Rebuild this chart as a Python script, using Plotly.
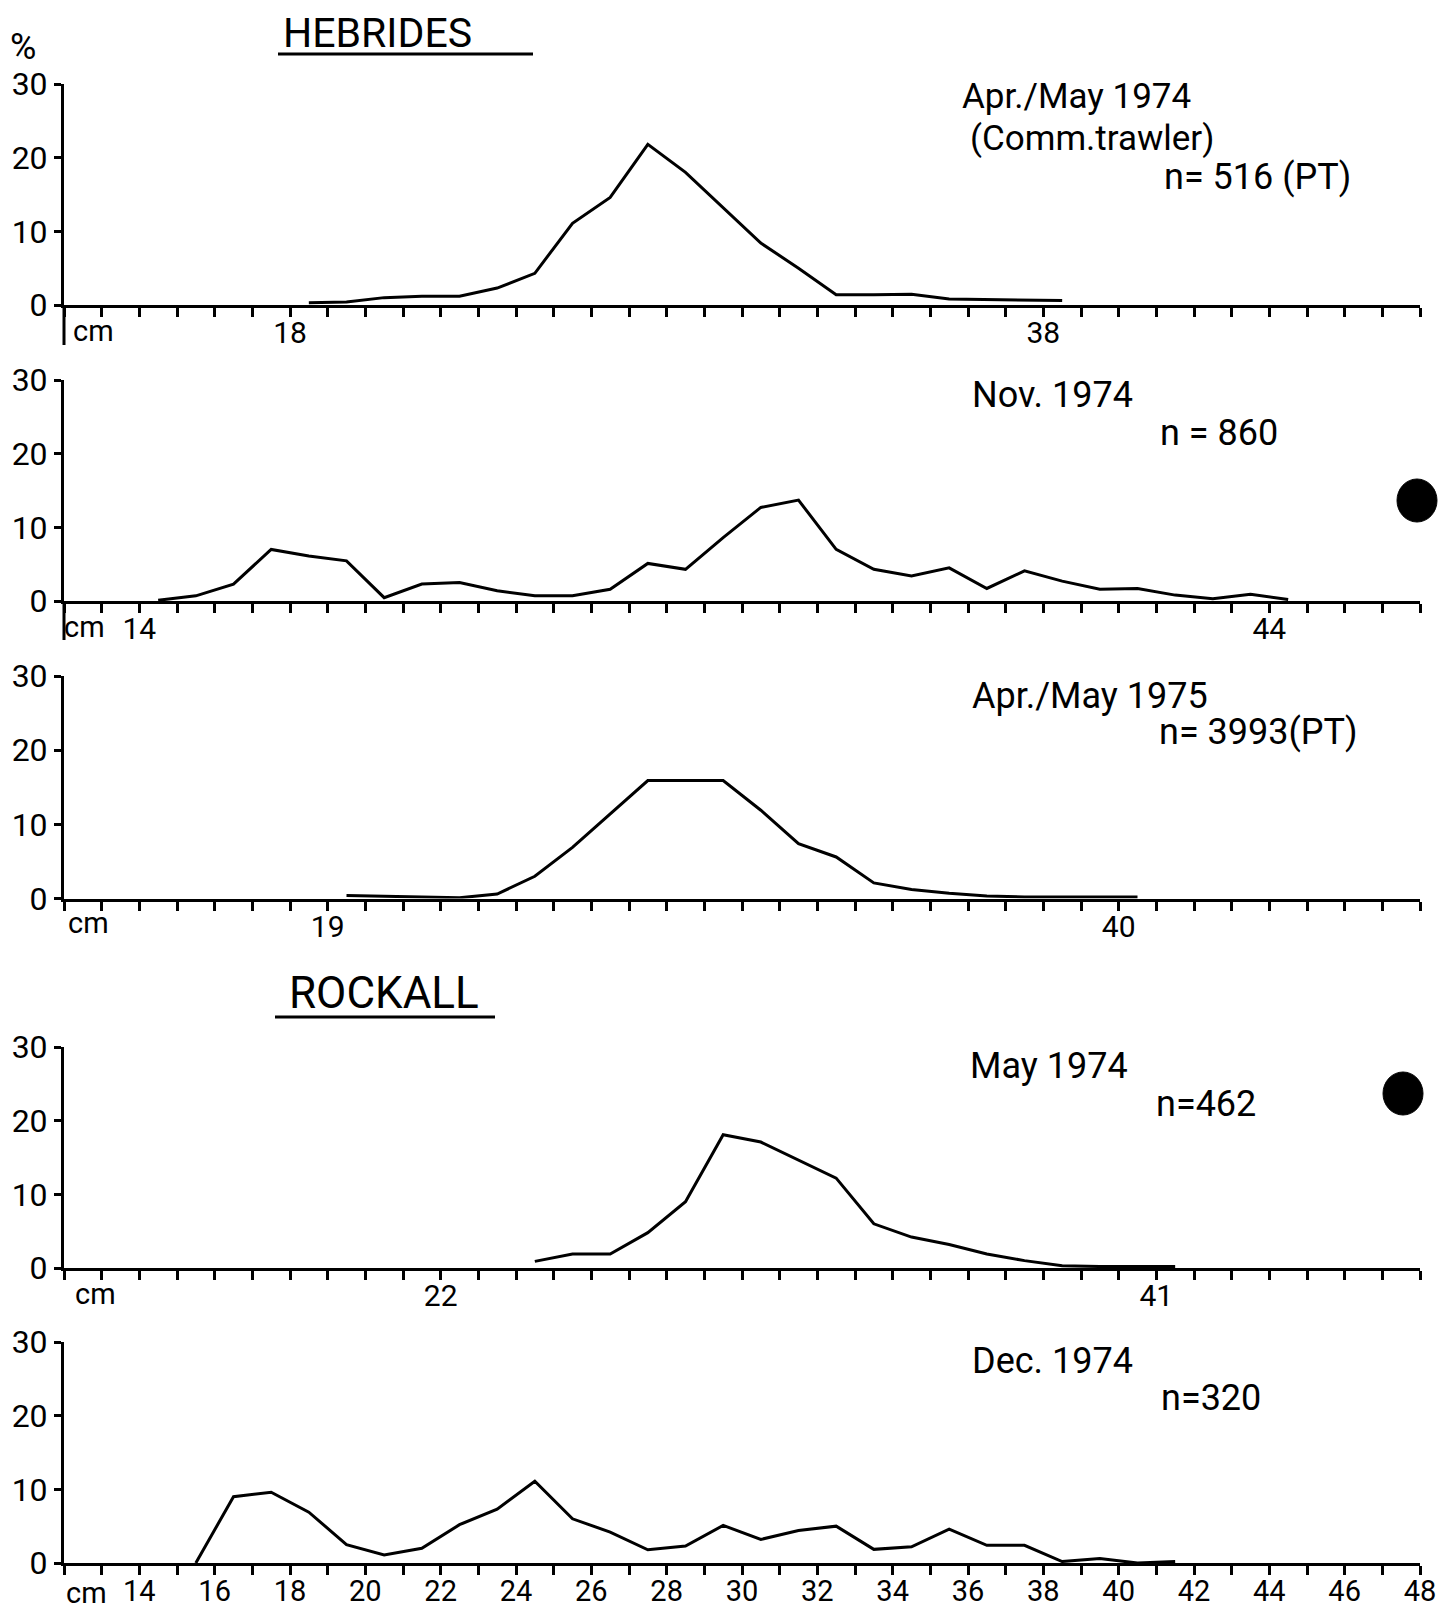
import plotly.graph_objects as go

# ---------------- data ----------------
# Hebrides, Apr/May 1974 (commercial trawler), n=516 (PT)
heb_apr74_len = [18.5, 19.5, 20.5, 21.5, 22.5, 23.5, 24.5, 25.5, 26.5, 27.5, 28.5,
                 29.5, 30.5, 31.5, 32.5, 33.5, 34.5, 35.5, 36.5, 37.5, 38.5]
heb_apr74_pct = [0.3, 0.4, 1.0, 1.2, 1.2, 2.3, 4.3, 11.1, 14.6, 21.8, 18.0,
                 13.2, 8.4, 5.0, 1.4, 1.4, 1.45, 0.8, 0.7, 0.6, 0.6]

# Hebrides, Nov 1974, n=860
heb_nov74_len = [14.5, 15.5, 16.5, 17.5, 18.5, 19.5, 20.5, 21.5, 22.5, 23.5, 24.5,
                 25.5, 26.5, 27.5, 28.5, 29.5, 30.5, 31.5, 32.5, 33.5, 34.5, 35.5,
                 36.5, 37.5, 38.5, 39.5, 40.5, 41.5, 42.5, 43.5, 44.5]
heb_nov74_pct = [0.1, 0.7, 2.3, 7.0, 6.1, 5.45, 0.45, 2.3, 2.5, 1.4, 0.7,
                 0.7, 1.6, 5.1, 4.3, 8.6, 12.7, 13.7, 7.0, 4.3, 3.4, 4.5,
                 1.7, 4.1, 2.7, 1.6, 1.7, 0.8, 0.3, 0.9, 0.2]

# Hebrides, Apr/May 1975, n=3993 (PT)
heb_apr75_len = [19.5, 20.5, 21.5, 22.5, 23.5, 24.5, 25.5, 26.5, 27.5, 28.5, 29.5,
                 30.5, 31.5, 32.5, 33.5, 34.5, 35.5, 36.5, 37.5, 38.5, 39.5, 40.5]
heb_apr75_pct = [0.4, 0.3, 0.2, 0.1, 0.6, 3.0, 6.9, 11.4, 15.9, 15.9, 15.9,
                 11.9, 7.4, 5.6, 2.1, 1.2, 0.7, 0.35, 0.2, 0.2, 0.2, 0.2]

# Rockall, May 1974, n=462
roc_may74_len = [24.5, 25.5, 26.5, 27.5, 28.5, 29.5, 30.5, 31.5, 32.5, 33.5, 34.5,
                 35.5, 36.5, 37.5, 38.5, 39.5, 40.5, 41.5]
roc_may74_pct = [0.9, 1.9, 1.9, 4.8, 9.0, 18.1, 17.1, 14.7, 12.2, 6.0, 4.2,
                 3.2, 1.9, 1.0, 0.3, 0.2, 0.2, 0.2]

# Rockall, Dec 1974, n=320
roc_dec74_len = [15.5, 16.5, 17.5, 18.5, 19.5, 20.5, 21.5, 22.5, 23.5, 24.5, 25.5,
                 26.5, 27.5, 28.5, 29.5, 30.5, 31.5, 32.5, 33.5, 34.5, 35.5, 36.5,
                 37.5, 38.5, 39.5, 40.5, 41.5]
roc_dec74_pct = [0.0, 9.0, 9.6, 6.9, 2.5, 1.1, 2.0, 5.2, 7.3, 11.1, 6.0,
                 4.2, 1.8, 2.3, 5.1, 3.2, 4.4, 5.0, 1.85, 2.2, 4.6, 2.4,
                 2.4, 0.2, 0.6, 0.0, 0.2]

# tick labels
y_ticks = [0, 10, 20, 30]
x_minor_ticks = list(range(12, 49))
p1_xticks = [18, 38]
p2_xticks = [14, 44]
p3_xticks = [19, 40]
p4_xticks = [22, 41]
p5_xticks = list(range(14, 49, 2))

# panel texts
p1_lines = ["Apr./May 1974", "(Comm.trawler)", "n= 516 (PT)"]
p2_lines = ["Nov. 1974", "n = 860"]
p3_lines = ["Apr./May 1975", "n= 3993(PT)"]
p4_lines = ["May 1974", "n=462"]
p5_lines = ["Dec. 1974", "n=320"]

# ---------------- layout helpers ----------------
W, H = 1449, 1610
PAGE_OFF = 8  # default body margin of the html page
FONT = "Roboto, DejaVu Sans, sans-serif"


def fx(p):
    return (p - PAGE_OFF) / W


def fy(p):
    return 1 - (p - PAGE_OFF) / H


X_DOMAIN = [fx(64), fx(1420)]
# pixel rows of y=0 and y=30 for each panel
panel_rows = [(305, 84), (601, 380), (898.5, 676), (1268, 1047), (1563, 1342)]

series = [
    (heb_apr74_len, heb_apr74_pct, p1_xticks),
    (heb_nov74_len, heb_nov74_pct, p2_xticks),
    (heb_apr75_len, heb_apr75_pct, p3_xticks),
    (roc_may74_len, roc_may74_pct, p4_xticks),
    (roc_dec74_len, roc_dec74_pct, p5_xticks),
]

fig = go.Figure()
layout = {}
for i, ((xs, ys, xt), (r0, r30)) in enumerate(zip(series, panel_rows), start=1):
    sfx = "" if i == 1 else str(i)
    fig.add_trace(go.Scatter(
        x=xs, y=ys, mode="lines",
        line=dict(color="black", width=3),
        xaxis="x" + sfx, yaxis="y" + sfx, showlegend=False,
        hoverinfo="x+y",
    ))
    last = i == len(series)
    layout["xaxis" + sfx] = dict(
        domain=X_DOMAIN, range=[12, 48], anchor="y" + sfx, automargin=False,
        showline=True, linecolor="black", linewidth=3,
        showgrid=False, zeroline=False,
        tickmode="array", tickvals=xt, ticktext=[str(v) for v in xt],
        ticks="outside", ticklen=9, tickwidth=2.5, tickcolor="black",
        ticklabelstandoff=-9 if last else -10,
        tickfont=dict(family=FONT, size=29 if last else 30, color="black"),
        minor=dict(tickmode="array", tickvals=x_minor_ticks, ticks="outside",
                   ticklen=9, tickwidth=2.5, tickcolor="black", showgrid=False),
    )
    layout["yaxis" + sfx] = dict(
        domain=[fy(r0), fy(r30)], range=[0, 30], anchor="x" + sfx, automargin=False,
        showline=True, linecolor="black", linewidth=3,
        showgrid=False, zeroline=False,
        tickmode="array", tickvals=y_ticks, ticktext=[str(v) for v in y_ticks],
        ticks="outside", ticklen=7, tickwidth=3, tickcolor="black",
        tickfont=dict(family=FONT, size=32, color="black"),
    )

annotations = []


def txt(text, x, y, size, xanchor="left", yanchor="middle", borderpad=1):
    annotations.append(dict(
        text=text, xref="paper", yref="paper", x=fx(x), y=fy(y),
        xanchor=xanchor, yanchor=yanchor, showarrow=False, borderpad=borderpad,
        font=dict(family=FONT, size=size, color="black"),
    ))


# titles
txt("HEBRIDES", 282, 8, 41, yanchor="top", borderpad=0)
txt("ROCKALL", 287, 993, 44)
txt("%", 8, 47, 36)

# panel annotations
txt(p1_lines[0], 960, 97, 35)
txt(p1_lines[1], 968, 138, 35)
txt(p1_lines[2], 1162, 177, 36)

txt(p2_lines[0], 970, 395, 36)
txt(p2_lines[1], 1158, 433, 36)

txt(p3_lines[0], 970, 696, 36)
txt(p3_lines[1], 1157, 732, 36)

txt(p4_lines[0], 968, 1066, 36)
txt(p4_lines[1], 1154, 1104, 36)

txt(p5_lines[0], 970, 1361, 36)
txt(p5_lines[1], 1159, 1398, 36)

# "cm" unit labels
txt("cm", 71, 331, 29)
txt("cm", 62, 627, 29)
txt("cm", 66, 923, 29)
txt("cm", 73, 1294, 29)
txt("cm", 64, 1593, 29)

shapes = [
    dict(type="line", xref="paper", yref="paper", x0=fx(278), x1=fx(533), y0=fy(54), y1=fy(54),
         line=dict(color="black", width=3)),
    dict(type="line", xref="paper", yref="paper", x0=fx(275), x1=fx(495), y0=fy(1017), y1=fy(1017),
         line=dict(color="black", width=3)),
    # y-axis stubs continuing below the zero line
    dict(type="line", xref="paper", yref="paper", x0=fx(64), x1=fx(64), y0=fy(305), y1=fy(345),
         line=dict(color="black", width=3)),
    dict(type="line", xref="paper", yref="paper", x0=fx(64), x1=fx(64), y0=fy(601), y1=fy(640),
         line=dict(color="black", width=3)),
    # dark blobs on the sheet
    dict(type="circle", xref="paper", yref="paper", x0=fx(1397), x1=fx(1437), y0=fy(479), y1=fy(522),
         fillcolor="black", line=dict(color="black", width=1)),
    dict(type="circle", xref="paper", yref="paper", x0=fx(1383), x1=fx(1423), y0=fy(1072), y1=fy(1115),
         fillcolor="black", line=dict(color="black", width=1)),
]

fig.update_layout(
    template="none",
    width=W, height=H,
    margin=dict(l=0, r=0, t=0, b=0, pad=0, autoexpand=False),
    paper_bgcolor="white", plot_bgcolor="white",
    font=dict(family=FONT, color="black"),
    annotations=annotations, shapes=shapes,
    **layout,
)

fig.write_html("out.html")
